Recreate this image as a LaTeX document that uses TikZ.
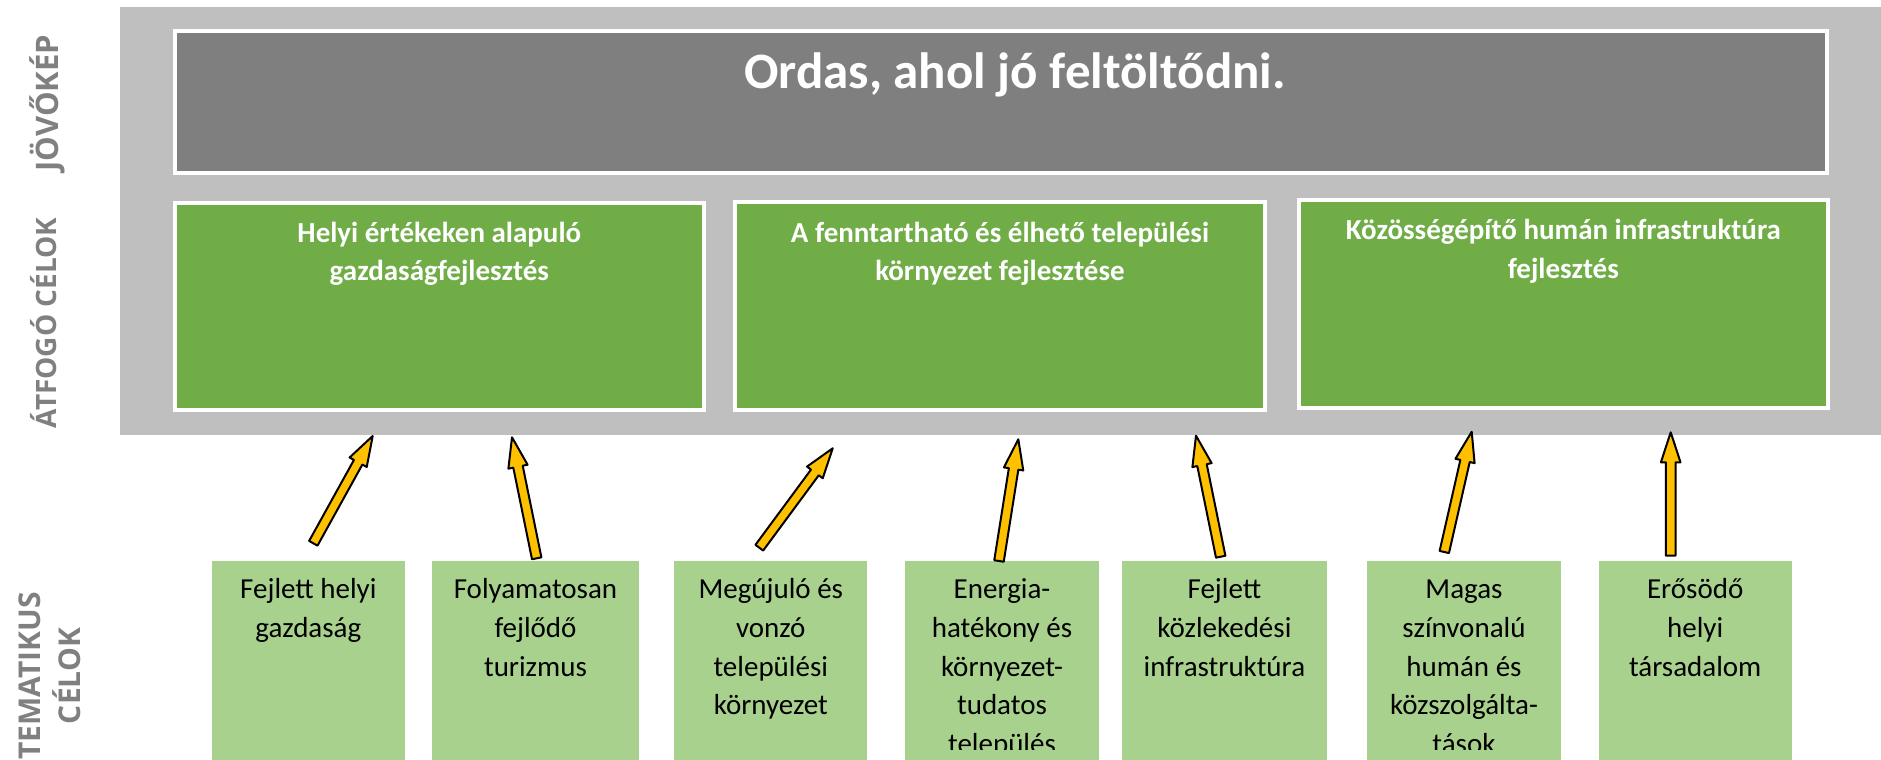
\documentclass[tikz,border=0pt]{standalone}
\usepackage{fontspec}
\setmainfont{Carlito}
\newfontfamily\labelfont{Open Sans}
\usetikzlibrary{calc}
\definecolor{bggray}{HTML}{BFBFBF}
\definecolor{darkfill}{HTML}{7F7F7F}
\definecolor{topgreen}{HTML}{70AD47}
\definecolor{lightgreen}{HTML}{A9D18E}
\definecolor{arrowyellow}{HTML}{FFC000}
\definecolor{labelgray}{HTML}{808080}
\newcommand\blockarrow[2]{%
  \coordinate (#2-b) at ($(#2)!15pt!(#1)$);
  \draw[arr] ($(#1)!2.4pt!90:(#2)$) -- ($(#2-b)!2.4pt!-90:(#1)$) -- ($(#2-b)!4.9pt!-90:(#1)$) -- (#2) -- ($(#2-b)!4.9pt!90:(#1)$) -- ($(#2-b)!2.4pt!90:(#1)$) -- ($(#1)!2.4pt!-90:(#2)$) -- cycle;}
\begin{document}
\begin{tikzpicture}[x=0.5pt,y=-0.5pt,
  visionbox/.style={fill=darkfill, draw=white, line width=2pt, inner sep=0pt},
  goalbox/.style={fill=topgreen, draw=white, line width=2pt, inner sep=0pt, minimum width={529.3*0.5pt}, minimum height={207.5*0.5pt}},
  themebox/.style={fill=lightgreen, inner sep=0pt, minimum height={199*0.5pt}},
  titletext/.style={text=white, font=\bfseries\fontsize{25.5}{30}\selectfont, inner sep=0pt, anchor=base},
  goaltext/.style={text=white, font=\bfseries\fontsize{14.5}{19.25}\selectfont, align=center, inner sep=0pt, anchor=north},
  themetext/.style={text=black, font=\fontsize{14.5}{19.35}\selectfont, align=center, inner sep=0pt, anchor=north},
  sidelabel/.style={text=labelgray, font=\labelfont\bfseries\fontsize{14}{16}\selectfont, rotate=90, anchor=base, inner sep=0pt},
  arr/.style={fill=arrowyellow, draw=black, line width=1pt, line join=round}
]
\useasboundingbox (0,0) rectangle (1881,760);
% background panel
\fill[bggray] (120,7.3) rectangle (1881,435);
% vision
\node[visionbox, minimum width={1652.3*0.5pt}, minimum height={141.7*0.5pt}] (vision) at (1000.85,102.15) {};
\node[titletext] (title) at (1015,88.3) {Ordas, ahol jó feltöltődni.};
% overarching goals
\node[goalbox] (g1) at (439.35,306.5) {};
\node[goalbox] (g2) at (1000,306.2) {};
\node[goalbox] (g3) at (1563.35,304.15) {};
\node[goaltext] (g1t) at (439.35,212) {\rule{0pt}{15pt}Helyi értékeken alapuló\\gazdaságfejlesztés};
\node[goaltext] (g2t) at (1000,212) {\rule{0pt}{15pt}A fenntartható és élhető települési\\környezet fejlesztése};
\node[goaltext] (g3t) at (1563.35,209.5) {\rule{0pt}{15pt}Közösségépítő humán infrastruktúra\\fejlesztés};
% side labels
\node[sidelabel, font=\labelfont\bfseries\fontsize{15.5}{18}\selectfont] (lvision) at (58,103) {JÖVŐKÉP};
\node[sidelabel] (lgoals) at (56,323) {ÁTFOGÓ CÉLOK};
\node[sidelabel, font=\labelfont\bfseries\fontsize{15}{17}\selectfont] (lthem1) at (40,676) {TEMATIKUS};
\node[sidelabel, font=\labelfont\bfseries\fontsize{15}{17}\selectfont] (lthem2) at (80,676) {CÉLOK};
% thematic boxes
\node[themebox, minimum width={193.3*0.5pt}] (b1) at (308.35,660.5) {};
\node[themebox, minimum width={207*0.5pt}] (b2) at (535.5,660.5) {};
\node[themebox, minimum width={193*0.5pt}] (b3) at (770.8,660.5) {};
\node[themebox, minimum width={193.4*0.5pt}] (b4) at (1002,660.5) {};
\node[themebox, minimum width={205.8*0.5pt}] (b5) at (1224.4,660.5) {};
\node[themebox, minimum width={193.4*0.5pt}] (b6) at (1464,660.5) {};
\node[themebox, minimum width={193*0.5pt}] (b7) at (1695.2,660.5) {};
\begin{scope}
\clip (0,0) rectangle (1881,749);
\node[themetext] (b1t) at (b1.north |- 0,568.3) {\rule{0pt}{15pt}Fejlett helyi\\gazdaság};
\node[themetext] (b2t) at (b2.north |- 0,568.3) {\rule{0pt}{15pt}Folyamatosan\\fejlődő\\turizmus};
\node[themetext] (b3t) at (b3.north |- 0,568.3) {\rule{0pt}{15pt}Megújuló és\\vonzó\\települési\\környezet};
\node[themetext] (b4t) at (b4.north |- 0,568.3) {\rule{0pt}{15pt}Energia-\\hatékony és\\környezet-\\tudatos\\település};
\node[themetext] (b5t) at (b5.north |- 0,568.3) {\rule{0pt}{15pt}Fejlett\\közlekedési\\infrastruktúra};
\node[themetext] (b6t) at (b6.north |- 0,568.3) {\rule{0pt}{15pt}Magas\\színvonalú\\humán és\\közszolgálta-\\tások};
\node[themetext] (b7t) at (b7.north |- 0,568.3) {\rule{0pt}{15pt}Erősödő\\helyi\\társadalom};
\end{scope}
% arrow end points
\coordinate (t1) at (313.3,543.3);  \coordinate (h1) at (372.7,436);
\coordinate (t2) at (536.7,558.3);  \coordinate (h2) at (512,437.3);
\coordinate (t3) at (759.3,547.7);  \coordinate (h3) at (832.7,448.3);
\coordinate (t4) at (999,561);      \coordinate (h4) at (1018.3,439.3);
\coordinate (t5) at (1220.7,556.7); \coordinate (h5) at (1196,435.7);
\coordinate (t6) at (1444.3,552);   \coordinate (h6) at (1471.7,431.7);
\coordinate (t7) at (1670.7,555.7); \coordinate (h7) at (1670.7,432.3);
\blockarrow{t1}{h1}
\blockarrow{t2}{h2}
\blockarrow{t3}{h3}
\blockarrow{t4}{h4}
\blockarrow{t5}{h5}
\blockarrow{t6}{h6}
\blockarrow{t7}{h7}
\end{tikzpicture}
\end{document}
